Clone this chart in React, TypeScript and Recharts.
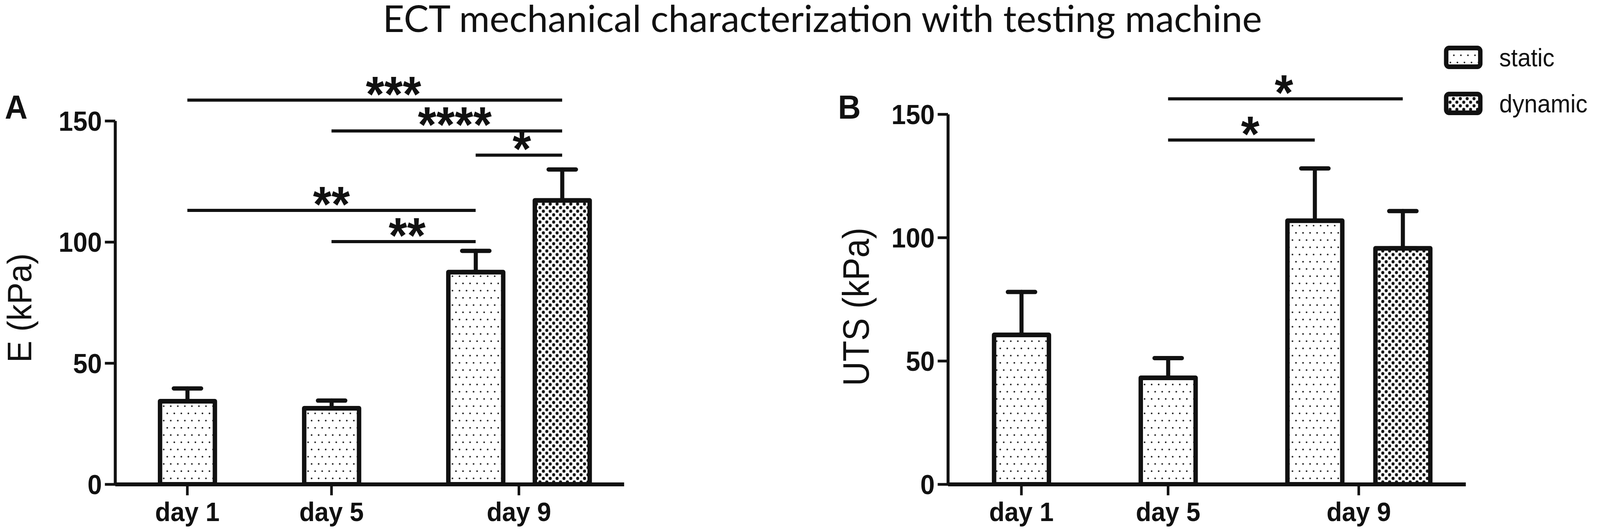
import { BarChart, Bar, XAxis, YAxis, ErrorBar, ReferenceLine, Legend } from "recharts";

// bar slots along the x axis (day 9 holds two bars side by side)
const BAR_POS = [1, 2, 3, 3.6];
const BAR_GROUP = ["static", "static", "static", "dynamic"];
const SERIES = ["static", "dynamic"];
const TICK_POS = [1, 2, 3.3];
const TICK_LABELS = ["day 1", "day 5", "day 9"];
const Y_TICKS = [0, 50, 100, 150];

// panel A: Young's modulus
const E_MEAN = [34.3, 31.4, 87.6, 117.2];
const E_SD = [5.3, 3.2, 8.8, 12.8];
// panel B: ultimate tensile strength
const UTS_MEAN = [60.6, 43.2, 106.9, 95.7];
const UTS_SD = [17.4, 8.0, 21.2, 15.1];

// significance brackets: [from bar, to bar, height (kPa), stars, stars centre on x]
type Sig = [number, number, number, string, number];
const E_SIG: Sig[] = [
  [0, 3, 158.6, "***", 2.43],
  [1, 3, 145.9, "****", 2.855],
  [2, 3, 135.9, "*", 3.32],
  [0, 2, 113.1, "**", 2.0],
  [1, 2, 100.2, "**", 2.525],
];
const UTS_SIG: Sig[] = [
  [1, 3, 156.3, "*", 2.79],
  [1, 2, 139.6, "*", 2.56],
];

const FIG_W = 4317;
const FIG_H = 1363;
const INK = "#111";
const ARIAL = "'Liberation Sans', Arial, sans-serif";

function buildRows(mean: number[], sd: number[]) {
  return BAR_POS.map((x, i) => {
    const isStatic = BAR_GROUP[i] === "static";
    return {
      x,
      static: isStatic ? mean[i] : null,
      dynamic: isStatic ? null : mean[i],
      staticErr: isStatic ? [0, sd[i]] : null,
      dynamicErr: isStatic ? null : [0, sd[i]],
    };
  });
}

function Patterns({ prefix }: { prefix: string }) {
  return (
    <defs>
      <pattern id={`${prefix}Static`} width={19} height={37} patternUnits="userSpaceOnUse">
        <rect width={19} height={37} fill="#fff" />
        <circle cx={4.75} cy={4.6} r={2.2} fill="#1a1a1a" />
        <circle cx={14.25} cy={23.1} r={2.2} fill="#1a1a1a" />
      </pattern>
      <pattern id={`${prefix}Dynamic`} width={18.5} height={18.5} patternUnits="userSpaceOnUse">
        <rect width={18.5} height={18.5} fill="#fff" />
        <circle cx={4.6} cy={4.6} r={4.1} fill="#111" />
        <circle cx={13.9} cy={13.9} r={4.1} fill="#111" />
      </pattern>
    </defs>
  );
}

const starLabel = (sig: Sig) => (props: any) => {
  const [a, b, , text, at] = sig;
  const vb = props.viewBox ?? {};
  const x0 = vb.x ?? 0;
  const w = vb.width ?? 0;
  const cx = x0 + ((at - BAR_POS[a]) / (BAR_POS[b] - BAR_POS[a])) * w;
  return (
    <text
      x={cx}
      y={(vb.y ?? 0) + 28}
      textAnchor="middle"
      fontSize={128}
      fontWeight={700}
      fontFamily={ARIAL}
      fill={INK}
    >
      {text}
    </text>
  );
};

const renderLegend = (props: any) => {
  const names: string[] = (props.payload ?? []).map((p: any) => String(p.value));
  names.sort((m, n) => SERIES.indexOf(m) - SERIES.indexOf(n));
  return (
    <svg width={430} height={210} style={{ overflow: "visible" }}>
      {names.map((name, i) => (
        <g key={name}>
          <rect
            x={22}
            y={23 + i * 118}
            width={92}
            height={48}
            rx={8}
            fill={`url(#b${name === "static" ? "Static" : "Dynamic"})`}
            stroke={INK}
            strokeWidth={12}
          />
          <text x={165} y={70 + i * 118} fontSize={64} fontFamily={ARIAL} fill={INK}>
            {name}
          </text>
        </g>
      ))}
    </svg>
  );
};

interface PanelProps {
  prefix: string;
  letter: string;
  yLabel: string;
  mean: number[];
  sd: number[];
  sig: Sig[];
  left: number;
  width: number;
  plotLeft: number;
  plotRight: number;
  plotTop: number;
  labelX: number;
  labelY: number;
  labelSize: number;
  labelLength: number;
  letterX: number;
  showLegend?: boolean;
}

function Panel(p: PanelProps) {
  const rows = buildRows(p.mean, p.sd);
  return (
    <div style={{ position: "absolute", left: p.left, top: 0 }}>
      <BarChart
        width={p.width}
        height={FIG_H}
        data={rows}
        margin={{ top: p.plotTop, right: p.width - p.plotRight, bottom: 0, left: 0 }}
        barSize={148}
      >
        <Patterns prefix={p.prefix} />
        <text x={p.letterX} y={304} fontSize={85} fontWeight={700} fontFamily={ARIAL} fill={INK}>
          {p.letter}
        </text>
        <text
          x={p.labelX}
          y={p.labelY}
          transform={`rotate(-90 ${p.labelX} ${p.labelY})`}
          textAnchor="middle"
          fontSize={p.labelSize}
          fontFamily={ARIAL}
          textLength={p.labelLength}
          lengthAdjust="spacingAndGlyphs"
          fill={INK}
        >
          {p.yLabel}
        </text>
        <XAxis
          type="number"
          dataKey="x"
          domain={[0.5, 4.03]}
          ticks={TICK_POS}
          interval={0}
          allowDataOverflow
          tickFormatter={(v: number) => TICK_LABELS[TICK_POS.indexOf(v)] ?? ""}
          height={122}
          tickSize={28}
          tickMargin={18}
          axisLine={{ stroke: INK, strokeWidth: 10 }}
          tickLine={{ stroke: INK, strokeWidth: 7 }}
          tick={{ fontSize: 68, fontWeight: 700, fill: INK, fontFamily: ARIAL }}
        />
        <YAxis
          type="number"
          domain={[0, 150]}
          ticks={Y_TICKS}
          interval={0}
          allowDataOverflow
          width={p.plotLeft}
          tickSize={28}
          tickMargin={8}
          axisLine={{ stroke: INK, strokeWidth: 8 }}
          tickLine={{ stroke: INK, strokeWidth: 7 }}
          tick={{ fontSize: 70, fontWeight: 700, fill: INK, fontFamily: ARIAL }}
        />
        <Bar
          dataKey="static"
          name="static"
          stackId="day"
          fill={`url(#${p.prefix}Static)`}
          stroke={INK}
          strokeWidth={12}
          strokeLinejoin="round"
          isAnimationActive={false}
        >
          <ErrorBar dataKey="staticErr" width={37} stroke={INK} strokeWidth={11} strokeLinecap="round" />
        </Bar>
        <Bar
          dataKey="dynamic"
          name="dynamic"
          stackId="day"
          fill={`url(#${p.prefix}Dynamic)`}
          stroke={INK}
          strokeWidth={12}
          strokeLinejoin="round"
          isAnimationActive={false}
        >
          <ErrorBar dataKey="dynamicErr" width={37} stroke={INK} strokeWidth={11} strokeLinecap="round" />
        </Bar>
        {p.sig.map((s) => (
          <ReferenceLine
            key={`${s[0]}-${s[1]}`}
            segment={[
              { x: BAR_POS[s[0]], y: s[2] },
              { x: BAR_POS[s[1]], y: s[2] },
            ]}
            ifOverflow="visible"
            stroke={INK}
            strokeWidth={8}
            label={starLabel(s)}
          />
        ))}
        {p.showLegend && (
          <Legend
            layout="vertical"
            align="center"
            verticalAlign="middle"
            content={renderLegend}
            wrapperStyle={{ left: 1680, top: 100, width: 430, height: 210 }}
          />
        )}
      </BarChart>
    </div>
  );
}

export default function App() {
  // the browser caps the window width, so squeeze the figure sideways to fit it
  const viewW = typeof window !== "undefined" ? window.innerWidth : FIG_W;
  const sx = Math.min(1, viewW / FIG_W);
  return (
    <div
      style={{
        position: "absolute",
        left: 0,
        top: 0,
        width: FIG_W,
        height: FIG_H,
        background: "#fff",
        overflow: "hidden",
        transform: `scaleX(${sx})`,
        transformOrigin: "0 0",
      }}
    >
      <svg width={FIG_W} height={130} style={{ position: "absolute", left: 0, top: 0 }}>
        <text
          x={1033}
          y={82}
          fontSize={95}
          fontFamily="Lato, 'Open Sans', sans-serif"
          textLength={2372}
          lengthAdjust="spacingAndGlyphs"
          fill={INK}
        >
          ECT mechanical characterization with testing machine
        </text>
      </svg>
      <Panel
        prefix="a"
        letter="A"
        yLabel="E (kPa)"
        mean={E_MEAN}
        sd={E_SD}
        sig={E_SIG}
        left={0}
        width={1760}
        plotLeft={311}
        plotRight={1684}
        plotTop={310}
        labelX={84}
        labelY={789}
        labelSize={92}
        labelLength={280}
        letterX={13}
      />
      <Panel
        prefix="b"
        letter="B"
        yLabel="UTS (kPa)"
        mean={UTS_MEAN}
        sd={UTS_SD}
        sig={UTS_SIG}
        left={2200}
        width={2117}
        plotLeft={358}
        plotRight={1755}
        plotTop={293}
        labelX={144}
        labelY={786}
        labelSize={100}
        labelLength={406}
        letterX={61}
        showLegend
      />
    </div>
  );
}
